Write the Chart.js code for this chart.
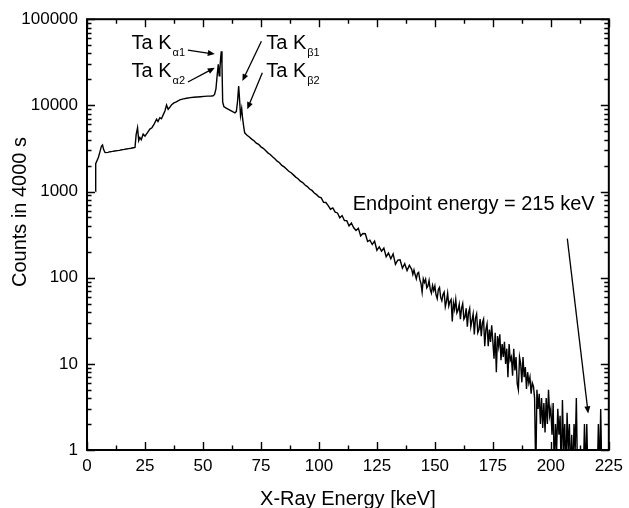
<!DOCTYPE html>
<html>
<head>
<meta charset="utf-8">
<script src="https://cdn.jsdelivr.net/npm/chart.js@4.4.1/dist/chart.umd.min.js"></script>
<style>
  html, body { margin: 0; padding: 0; background: #fff; }
  #wrap { width: 629px; height: 508px; }
</style>
</head>
<body>
<div id="wrap"><canvas id="spec" width="629" height="508"></canvas></div>
<script>
/* Spectrum data (energy in keV, counts in 4000 s) */
const lowEnergy = [3.7, 3.75, 4.9, 5.6, 6.2, 6.7, 7.2, 7.8, 9, 10, 11, 12, 13, 14, 15, 16, 17, 18, 19, 20,
  20.7, 21.2, 21.8, 22.3, 22.8, 23.4, 24.2, 25, 26, 27.1, 28, 29, 30, 30.6, 31.4, 32.1, 32.8, 33.6, 34.3, 35,
  35.7, 36.5, 37.5, 38.5, 40, 41.5, 43, 44.5, 46, 47.5, 49, 50.5, 52, 53.5, 54.4, 55];
const lowCounts = [1000, 2100, 2480, 2900, 3350, 3470, 3050, 2830, 2850, 2900, 2920, 2950, 2980, 3000, 3050, 3080, 3120, 3150, 3180, 3220,
  3250, 4600, 5500, 3900, 4230, 4000, 4630, 4400, 4800, 5300, 5500, 6100, 6900, 6500, 7200, 7000, 7700, 8600, 10100, 9000,
  9500, 10200, 10700, 11000, 11600, 11900, 12100, 12300, 12400, 12500, 12600, 12700, 12800, 12850, 12900, 13400];

const peakEnergy = [55.6, 56.1, 56.6, 57.0, 57.3, 57.6, 57.9, 58.2, 58.5, 59, 60, 61, 62, 63, 63.8, 64.4, 64.9, 65.4, 65.8, 66.2,
  66.7, 67.1, 67.6, 68, 69];
const peakCounts = [15500, 22000, 30000, 22000, 26000, 35000, 42500, 30000, 11000, 9700, 9300, 9000, 8700, 8400, 8200, 8500, 11000, 16800, 11500, 7600,
  9200, 7000, 5600, 4800, 4500];

const slopeEnergy = [70, 71, 72, 73, 74, 75, 76, 77, 78, 79, 80, 81, 82, 83, 84, 85, 86, 87, 88, 89,
  90, 91, 92, 93, 94, 95, 96, 97, 98, 99, 100, 101, 102, 103, 104, 105, 106, 107, 108, 109,
  110, 111, 112, 113, 114, 115, 116, 117, 118, 119, 120, 121, 122, 123, 124, 125, 126, 127, 128, 129,
  130, 131, 132, 133, 134, 135, 136, 137, 138, 139];
const slopeCounts = [4300, 4060, 3880, 3640, 3530, 3300, 3170, 2990, 2810, 2690, 2530, 2400, 2250, 2160, 2010, 1930, 1830, 1720, 1650, 1560,
  1470, 1410, 1320, 1270, 1190, 1140, 1070, 1030, 960, 920, 865, 843, 751, 746, 685, 623, 646, 577, 564, 496,
  526, 461, 459, 398, 431, 379, 353, 375, 306, 325, 324, 264, 273, 243, 265, 208, 228, 203, 221, 175,
  193, 166, 189, 143, 160, 161, 129, 145, 121, 139];

const tailEnergy = [140, 140.5, 141, 141.5, 142, 142.5, 143, 143.5, 144, 144.5,
  145, 145.5, 146, 146.5, 147, 147.5, 148, 148.5, 149, 149.5,
  150, 150.5, 151, 151.5, 152, 152.5, 153, 153.5, 154, 154.5,
  155, 155.5, 156, 156.5, 157, 157.5, 158, 158.5, 159, 159.5,
  160, 160.5, 161, 161.5, 162, 162.5, 163, 163.5, 164, 164.5,
  165, 165.5, 166, 166.5, 167, 167.5, 168, 168.5, 169, 169.5,
  170, 170.5, 171, 171.5, 172, 172.5, 173, 173.5, 174, 174.5,
  175, 175.5, 176, 176.5, 177, 177.5, 178, 178.5, 179, 179.5,
  180, 180.5, 181, 181.5, 182, 182.5, 183, 183.5, 184, 184.5,
  185, 185.5, 186, 186.5, 187, 187.5, 188, 188.5, 189, 189.5,
  190, 190.5, 191, 191.5, 192, 192.5, 193, 193.5, 194, 194.5,
  195, 195.5, 196, 196.5, 197, 197.5, 198, 198.5, 199, 199.5,
  200, 200.5, 201, 201.5, 202, 202.5, 203, 203.5, 204, 204.5,
  205, 205.5, 206, 206.5, 207, 207.5, 208, 208.5, 209, 209.5,
  210, 210.5, 211, 211.5, 212, 212.5, 213, 213.5, 214, 214.5,
  215, 215.5, 216, 216.5, 217, 217.5, 218, 218.5, 219, 219.5,
  220, 220.5, 221, 221.5, 222, 222.5];
// 0.5 = empty channel (drawn below the 1-count axis and clipped)
const tailCounts = [125, 109, 123, 108, 97, 112, 115, 95, 86, 68,
  97, 88, 96, 76, 80, 93, 73, 66, 81, 71,
  80, 63, 57, 73, 77, 59, 54, 64, 68, 46,
  53, 66, 47, 53, 56, 31, 51, 43, 56, 39,
  42, 49, 33, 44, 50, 33, 35, 44, 27, 39,
  44, 27, 32, 38, 22, 34, 38, 23, 25, 33,
  21, 30, 33, 16, 25, 29, 16, 25, 18, 28,
  18, 11.5, 23, 8, 21, 16, 22, 11, 17, 12,
  18, 10, 15, 7, 17, 11, 12, 7.3, 15, 8.4,
  12, 5.9, 5, 12, 10, 6.1, 12, 7, 9.2, 5.1,
  8, 6, 7, 4.5, 6, 5.5, 4, 0.5, 5, 3,
  4.5, 2, 4, 1.8, 3.5, 1.6, 4, 2, 5, 2.5,
  3, 1.5, 3.5, 0.5, 2, 1, 3, 1.5, 2.5, 0.5,
  3.8, 1, 2, 0.5, 2.7, 1, 2, 0.5, 1.5, 0.5,
  2, 1, 4, 0.5, 0.5, 0.5, 1, 0.5, 0.5, 2,
  0.5, 2, 0.5, 1, 0.5, 0.5, 0.5, 0.5, 0.5, 0.5,
  0.5, 2, 0.5, 3, 0.5, 0.5];

const xTickValues = [0, 25, 50, 75, 100, 125, 150, 175, 200, 225];
const yTickValues = [1, 10, 100, 1000, 10000, 100000];

/* Annotations (positions in data units) */
const lineLabels = [
  { text: 'Ta K', sub: 'α1', e: 19.2, c: 44980 },
  { text: 'Ta K', sub: 'α2', e: 19.2, c: 21330 },
  { text: 'Ta K', sub: 'β1', e: 77.3, c: 44980 },
  { text: 'Ta K', sub: 'β2', e: 77.3, c: 21330 },
  { text: 'Endpoint energy = 215 keV', sub: '', e: 114.6, c: 615 }
];
const arrows = [
  { from: [43.5, 43750], to: [55.1, 39360] },
  { from: [43.5, 18660], to: [55.1, 27290] },
  { from: [75.2, 55590], to: [67.0, 19140] },
  { from: [75.6, 23930], to: [69.1, 9016] },
  { from: [207.1, 284], to: [216.1, 2.66] }
];

const FONT = '"Liberation Sans", Arial, Helvetica, sans-serif';

const toPoints = (xs, ys) => xs.map((x, i) => ({ x, y: ys[i] }));
const spectrum = [].concat(
  toPoints(lowEnergy, lowCounts),
  toPoints(peakEnergy, peakCounts),
  toPoints(slopeEnergy, slopeCounts),
  toPoints(tailEnergy, tailCounts)
);

/* frame + inward ticks on all four sides */
const framePlugin = {
  id: 'frame',
  afterDatasetsDraw(chart) {
    const { ctx, chartArea: a, scales: { x, y } } = chart;
    ctx.save();
    ctx.strokeStyle = '#000';
    ctx.lineWidth = 1.4;
    ctx.beginPath();
    for (let v = 0; v <= 225; v += 12.5) {
      const len = v % 25 === 0 ? 8 : 4.5;
      const px = Math.round(x.getPixelForValue(v)) + 0.5;
      ctx.moveTo(px, a.bottom); ctx.lineTo(px, a.bottom - len);
      ctx.moveTo(px, a.top); ctx.lineTo(px, a.top + len);
    }
    for (let d = 0; d <= 5; d++) {
      for (let m = 1; m <= 9; m++) {
        const v = m * Math.pow(10, d);
        if (v > 100000) break;
        const len = m === 1 ? 8 : 4.5;
        const py = Math.round(y.getPixelForValue(v)) + 0.5;
        ctx.moveTo(a.left, py); ctx.lineTo(a.left + len, py);
        ctx.moveTo(a.right, py); ctx.lineTo(a.right - len, py);
      }
    }
    ctx.stroke();
    ctx.lineWidth = 2;
    ctx.strokeRect(a.left, a.top, a.right - a.left, a.bottom - a.top);

    // axis titles
    ctx.fillStyle = '#000';
    ctx.font = '20px ' + FONT;
    ctx.textAlign = 'center';
    ctx.textBaseline = 'alphabetic';
    ctx.fillText('X-Ray Energy [keV]', (a.left + a.right) / 2, 505);
    ctx.translate(26, 212);
    ctx.rotate(-Math.PI / 2);
    ctx.fillText('Counts in 4000 s', 0, 0);
    ctx.restore();
  }
};

/* peak labels and arrows */
const notesPlugin = {
  id: 'notes',
  afterDraw(chart) {
    const { ctx, scales: { x, y } } = chart;
    ctx.save();
    ctx.fillStyle = '#000';
    ctx.strokeStyle = '#000';
    ctx.textAlign = 'left';
    ctx.textBaseline = 'alphabetic';
    lineLabels.forEach(l => {
      const px = x.getPixelForValue(l.e), py = y.getPixelForValue(l.c);
      ctx.font = '20px ' + FONT;
      ctx.fillText(l.text, px, py);
      if (l.sub) {
        const w = ctx.measureText(l.text).width;
        ctx.font = '11px ' + FONT;
        ctx.fillText(l.sub, px + w + 1, py + 7);
      }
    });
    ctx.lineWidth = 1.3;
    arrows.forEach(ar => {
      const x1 = x.getPixelForValue(ar.from[0]), y1 = y.getPixelForValue(ar.from[1]);
      const x2 = x.getPixelForValue(ar.to[0]), y2 = y.getPixelForValue(ar.to[1]);
      const ang = Math.atan2(y2 - y1, x2 - x1);
      const hl = 7, hw = 3;
      ctx.beginPath();
      ctx.moveTo(x1, y1);
      ctx.lineTo(x2 - Math.cos(ang) * hl * 0.8, y2 - Math.sin(ang) * hl * 0.8);
      ctx.stroke();
      ctx.beginPath();
      ctx.moveTo(x2, y2);
      ctx.lineTo(x2 - Math.cos(ang) * hl - Math.sin(ang) * hw, y2 - Math.sin(ang) * hl + Math.cos(ang) * hw);
      ctx.lineTo(x2 - Math.cos(ang) * hl + Math.sin(ang) * hw, y2 - Math.sin(ang) * hl - Math.cos(ang) * hw);
      ctx.closePath();
      ctx.fill();
    });
    ctx.restore();
  }
};

new Chart(document.getElementById('spec'), {
  type: 'line',
  data: {
    datasets: [{
      data: spectrum,
      borderColor: '#000',
      borderWidth: 1.4,
      pointRadius: 0,
      tension: 0,
      fill: false
    }]
  },
  options: {
    responsive: false,
    animation: false,
    devicePixelRatio: 1,
    layout: { padding: { top: 18, right: 19, left: 0, bottom: 0 } },
    plugins: { legend: { display: false }, tooltip: { enabled: false } },
    scales: {
      x: {
        type: 'linear', min: 0, max: 225,
        afterBuildTicks: s => { s.ticks = xTickValues.map(value => ({ value })); },
        afterFit: s => { s.height = 58; },
        grid: { display: false, drawTicks: false },
        border: { display: false },
        ticks: { color: '#000', font: { family: FONT, size: 17 }, padding: 6, maxRotation: 0, autoSkip: false }
      },
      y: {
        type: 'logarithmic', min: 1, max: 100000,
        afterBuildTicks: s => { s.ticks = yTickValues.map(value => ({ value })); },
        afterFit: s => { s.width = 87; },
        grid: { display: false, drawTicks: false },
        border: { display: false },
        ticks: { color: '#000', font: { family: FONT, size: 17 }, padding: 9, autoSkip: false,
          callback: v => String(v) }
      }
    }
  },
  plugins: [framePlugin, notesPlugin]
});
</script>
</body>
</html>
